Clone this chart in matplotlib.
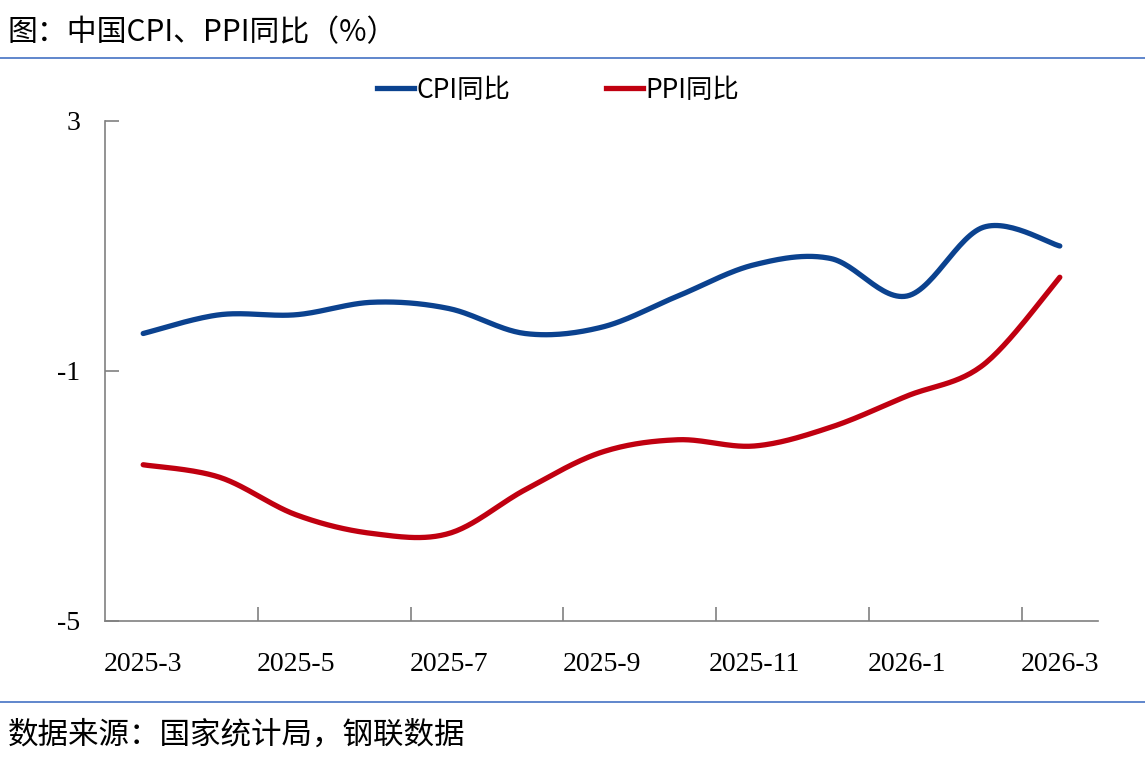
import numpy as np
import matplotlib.pyplot as plt
from matplotlib.lines import Line2D

# ----------------------------
# DATA
# ----------------------------
months = ["2025-3", "2025-4", "2025-5", "2025-6", "2025-7", "2025-8", "2025-9",
          "2025-10", "2025-11", "2025-12", "2026-1", "2026-2", "2026-3"]
cpi = [-0.4, -0.1, -0.1, 0.1, 0.0, -0.4, -0.3, 0.2, 0.7, 0.8, 0.2, 1.3, 1.0]
ppi = [-2.5, -2.7, -3.3, -3.6, -3.6, -2.9, -2.3, -2.1, -2.2, -1.9, -1.4, -0.9, 0.5]

title = "图：中国CPI、PPI同比（%）"
source = "数据来源：国家统计局，钢联数据"

plt.rcParams['font.family'] = ['Noto Sans CJK SC', 'DejaVu Sans']


def smooth(y, n=30):
    # Excel-like smoothed line: cubic Bezier segments with Catmull-Rom control points
    y = np.asarray(y, float)
    x = np.arange(len(y), dtype=float)
    pts = np.column_stack([x, y])
    ext = np.vstack([pts[0], pts, pts[-1]])
    out = []
    t = np.linspace(0, 1, n)[:, None]
    for i in range(len(pts) - 1):
        p0, p3 = pts[i], pts[i + 1]
        p1 = p0 + (ext[i + 2] - ext[i]) / 6
        p2 = p3 - (ext[i + 3] - ext[i + 1]) / 6
        seg = ((1 - t) ** 3) * p0 + 3 * ((1 - t) ** 2) * t * p1 + 3 * (1 - t) * t ** 2 * p2 + t ** 3 * p3
        out.append(seg if i == 0 else seg[1:])
    seg = np.vstack(out)
    return seg[:, 0], seg[:, 1]


fig = plt.figure(figsize=(11.45, 7.61), dpi=100)
ax = fig.add_axes([105 / 1145, 1 - 621 / 761, (1098 - 105) / 1145, 500 / 761])

blue = "#0b428f"
red = "#c00010"

xs, ys = smooth(cpi)
ax.plot(xs, ys, color=blue, lw=3.8, solid_capstyle='round')
xs, ys = smooth(ppi)
ax.plot(xs, ys, color=red, lw=3.8, solid_capstyle='round')

ax.set_xlim(-0.5, len(months) - 0.5)
ax.set_ylim(-5, 3)
ax.set_yticks([3, -1, -5])
ax.set_yticklabels(["3", "-1", "-5"], family='Liberation Serif', fontsize=20)

ax.set_xticks(np.arange(len(months))[::2])
ax.set_xticklabels(months[::2], family='Liberation Serif', fontsize=20)
ax.set_xticks(np.arange(1.5, len(months) - 0.5, 2), minor=True)
ax.tick_params(axis='x', which='major', length=0, pad=22)
ax.tick_params(axis='x', which='minor', direction='in', length=10, color='#808080', width=1.2)
ax.tick_params(axis='y', direction='in', length=10, color='#808080', width=1.2, pad=18)

for s in ['top', 'right']:
    ax.spines[s].set_visible(False)
for s in ['left', 'bottom']:
    ax.spines[s].set_color('#808080')
    ax.spines[s].set_linewidth(1.2)

handles = [Line2D([], [], color=blue, lw=3.8), Line2D([], [], color=red, lw=3.8)]
fig.legend(handles, ["CPI同比", "PPI同比"], loc='center', bbox_to_anchor=(558 / 1145, 1 - 90 / 761),
           ncol=2, frameon=False, fontsize=19, handlelength=1.4, handletextpad=0.1,
           columnspacing=3.6)

fig.text(8 / 1145, 1 - 33 / 761, title, fontsize=21.5, va='center', ha='left')
fig.text(8 / 1145, 1 - 735 / 761, source, fontsize=22, va='center', ha='left')

fig.add_artist(Line2D([0, 1], [1 - 58 / 761] * 2, color='#4472c4', lw=1.2))
fig.add_artist(Line2D([0, 1], [1 - 702 / 761] * 2, color='#4472c4', lw=1.2))

fig.savefig("out.png", dpi=100)
